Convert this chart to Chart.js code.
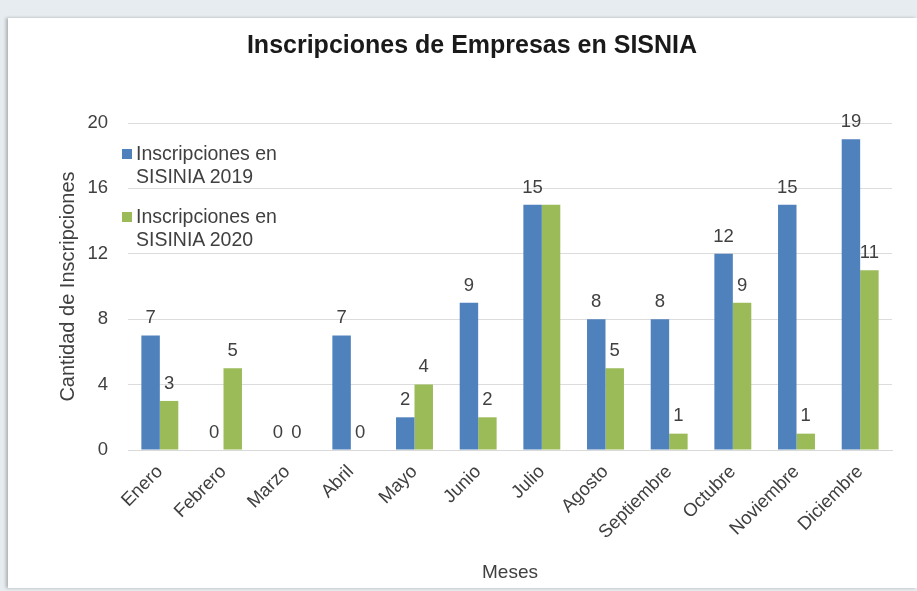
<!DOCTYPE html>
<html>
<head>
<meta charset="utf-8">
<script src="https://cdn.jsdelivr.net/npm/chart.js@4"></script>
<style>
  html, body { margin: 0; padding: 0; }
  body { width: 917px; height: 591px; background: #e6ecef; position: relative; overflow: hidden; font-family: "Liberation Sans", Arial, sans-serif; }
  #box { position: absolute; left: 8px; top: 18px; width: 909px; height: 570px; background: #fff; box-shadow: -2px 0 3px rgba(0,0,0,0.25); }
  #legend { position: absolute; left: 114px; top: 124px; font-size: 19.5px; color: #404040; line-height: 23px; }
  #legend .item { display: flex; align-items: flex-start; margin-bottom: 17px; }
  #legend .sw { width: 10px; height: 10px; margin: 7px 4px 0 0; flex: none; }
</style>
</head>
<body>
<div id="box">
  <canvas id="chart1" width="909" height="570"></canvas>
  <div id="legend"></div>
</div>
<script>
const ctx = document.getElementById('chart1').getContext('2d');

const azul = '#4f81bd';
const verde = '#9bbb59';
const fuente = '"Liberation Sans", Arial, sans-serif';

let meses = ["Enero", "Febrero", "Marzo", "Abril", "Mayo", "Junio", "Julio", "Agosto", "Septiembre", "Octubre", "Noviembre", "Diciembre"];
let valores2019 = [7, 0, 0, 7, 2, 9, 15, 8, 8, 12, 15, 19];
let valores2020 = [3, 5, 0, 0, 4, 2, 15, 5, 1, 9, 1, 11];
let ticksY = [0, 4, 8, 12, 16, 20];

// etiquetas de valor encima de cada barra (se omite la que se solapa con otra)
const etiquetas = {
  id: 'etiquetas',
  afterDatasetsDraw(chart) {
    const c = chart.ctx;
    const cajas = [];
    c.save();
    c.font = '18.5px ' + fuente;
    c.fillStyle = '#404040';
    c.textAlign = 'center';
    c.textBaseline = 'bottom';
    chart.data.datasets.forEach((ds, i) => {
      chart.getDatasetMeta(i).data.forEach((bar, j) => {
        const txt = String(ds.data[j]);
        const w = c.measureText(txt).width;
        const caja = { x1: bar.x - w / 2 - 1, x2: bar.x + w / 2 + 1, y1: bar.y - 27, y2: bar.y - 9 };
        const choca = cajas.some(b => caja.x1 < b.x2 && caja.x2 > b.x1 && caja.y1 < b.y2 && caja.y2 > b.y1);
        if (choca) return;
        cajas.push(caja);
        c.fillText(txt, bar.x, bar.y - 8);
      });
    });
    c.restore();
  }
};

new Chart(ctx, {
  type: 'bar',
  data: {
    labels: meses,
    datasets: [{
      label: 'Inscripciones en SISINIA 2019',
      backgroundColor: azul,
      data: valores2019,
      barPercentage: 1,
      categoryPercentage: 0.58
    }, {
      label: 'Inscripciones en SISINIA 2020',
      backgroundColor: verde,
      data: valores2020,
      barPercentage: 1,
      categoryPercentage: 0.58
    }]
  },
  options: {
    responsive: false,
    animation: false,
    layout: { padding: { left: 44, right: 25, top: 0, bottom: 0 } },
    plugins: {
      legend: { display: false },
      tooltip: { enabled: false },
      title: {
        display: true,
        text: 'Inscripciones de Empresas en SISNIA',
        color: '#1a1a1a',
        font: { size: 25, weight: 'bold', family: fuente },
        padding: { top: 13, bottom: 62 }
      }
    },
    scales: {
      y: {
        min: 0,
        max: 20,
        afterBuildTicks(scale) { scale.ticks = ticksY.map(v => ({ value: v })); },
        afterFit(scale) { scale.width = 76; },
        border: { display: false },
        grid: { color: '#dcdcdc', drawTicks: false },
        ticks: {
          color: '#404040',
          padding: 20,
          font: { size: 18.5, family: fuente }
        },
        title: {
          display: true,
          text: 'Cantidad de Inscripciones',
          color: '#404040',
          font: { size: 20, family: fuente }
        }
      },
      x: {
        afterFit(scale) { scale.height = 138; },
        border: { color: '#d9d9d9' },
        grid: { display: false },
        ticks: {
          color: '#404040',
          minRotation: 45,
          maxRotation: 45,
          font: { size: 18.5, family: fuente }
        },
        title: {
          display: true,
          text: 'Meses',
          color: '#404040',
          font: { size: 19, family: fuente }
        }
      }
    }
  },
  plugins: [etiquetas]
});

// leyenda dentro del area del grafico
const leyenda = document.getElementById('legend');
[[azul, 'Inscripciones en', 'SISINIA 2019'], [verde, 'Inscripciones en', 'SISINIA 2020']].forEach(l => {
  leyenda.innerHTML += '<div class="item"><span class="sw" style="background:' + l[0] + '"></span><span>' + l[1] + '<br>' + l[2] + '</span></div>';
});
</script>
</body>
</html>
